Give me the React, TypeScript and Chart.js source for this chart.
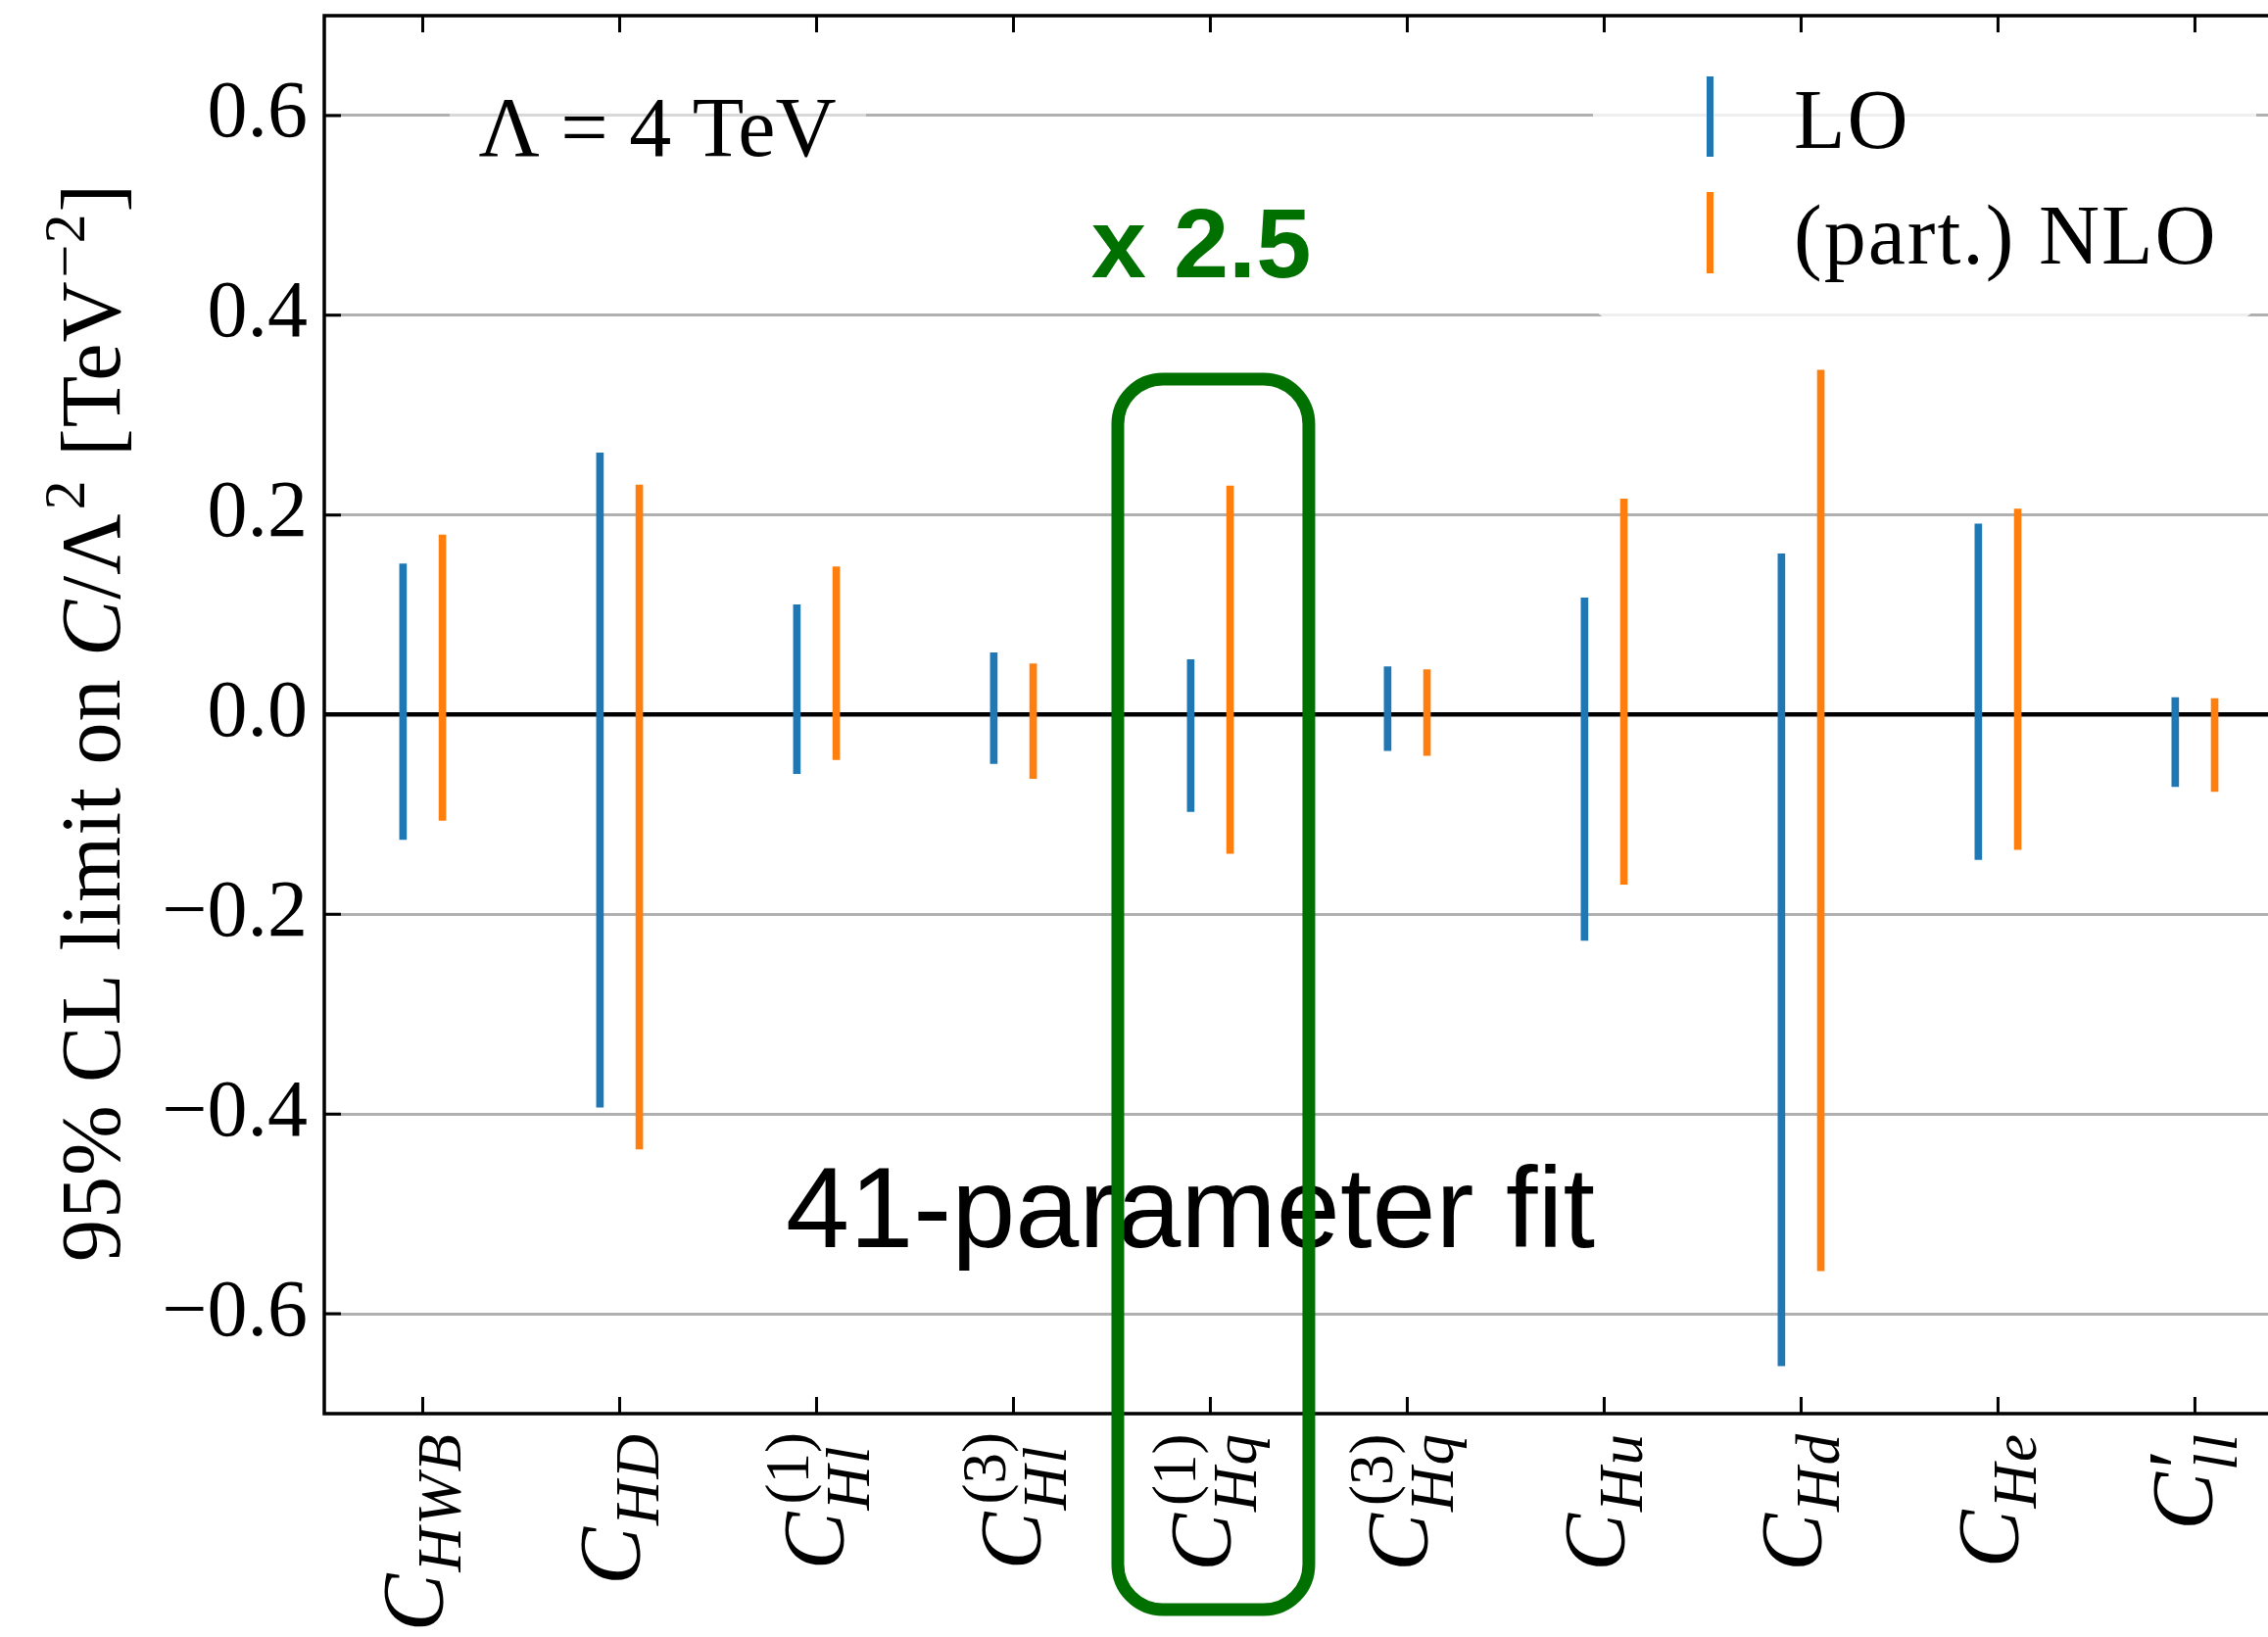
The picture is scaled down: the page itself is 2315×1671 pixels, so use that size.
import React, { useEffect, useRef } from 'react';
import { Chart, registerables } from 'chart.js';

Chart.register(...registerables);

// ---------------- data ----------------
const categories = ['C_HWB', 'C_HD', 'C_Hl^(1)', 'C_Hl^(3)', 'C_Hq^(1)', 'C_Hq^(3)', 'C_Hu', 'C_Hd', 'C_He', "C'_ll"];
const labelSub = ['HWB', 'HD', 'Hl', 'Hl', 'Hq', 'Hq', 'Hu', 'Hd', 'He', 'll'];
const labelSup = ['', '', '(1)', '(3)', '(1)', '(3)', '', '', '', ''];
const labelPrime = [false, false, false, false, false, false, false, false, false, true];

const loLow = [-0.125, -0.393, -0.059, -0.049, -0.097, -0.036, -0.226, -0.652, -0.145, -0.072];
const loHigh = [0.151, 0.262, 0.110, 0.062, 0.055, 0.048, 0.117, 0.161, 0.191, 0.017];
const nloLow = [-0.106, -0.435, -0.045, -0.064, -0.139, -0.041, -0.170, -0.557, -0.135, -0.077];
const nloHigh = [0.180, 0.230, 0.148, 0.051, 0.229, 0.045, 0.216, 0.345, 0.206, 0.016];

const seriesNames = ['LO', '(part.) NLO'];
const seriesColors = ['#1f77b4', '#ff7f0e'];
const yTicks = [-0.6, -0.4, -0.2, 0, 0.2, 0.4, 0.6];
const annotationScale = 'Λ = 4 TeV';
const annotationFactor = 'x 2.5';
const annotationFit = '41-parameter fit';
const highlightIndex = 4;

const SERIF = '"Liberation Serif", "Times New Roman", serif';
const SANS = '"Liberation Sans", Arial, sans-serif';
const GREEN = '#007000';

function fmtTick(v: number): string {
  if (Math.abs(v) < 1e-9) return '0.0';
  return (v < 0 ? '\u2212' : '') + Math.abs(v).toFixed(1);
}

function drawCoeffLabel(ctx: CanvasRenderingContext2D, cx: number, top: number, i: number) {
  const M = 88;
  const S = 63;
  const fMain = `italic ${M}px ${SERIF}`;
  const fSubI = `italic ${S}px ${SERIF}`;
  const fSupU = `${S}px ${SERIF}`;
  const sub = labelSub[i];
  const sup = labelSup[i];
  const prime = labelPrime[i];
  const hasSup = sup !== '' || prime;

  ctx.font = fMain;
  const mC = ctx.measureText('C');
  const cW = mC.width;
  const cAsc = mC.actualBoundingBoxAscent;
  const cDesc = mC.actualBoundingBoxDescent;

  const x0 = cW + 2;
  const subY = hasSup ? 0.3 * M : 0.22 * M;
  const supY = -0.4 * M;

  ctx.font = fSubI;
  const mSub = ctx.measureText(sub);
  const subW = mSub.width + 2 * sub.length;
  const subDesc = mSub.actualBoundingBoxDescent;
  const subAsc = mSub.actualBoundingBoxAscent;

  let supW = 0;
  let supTop = 0;
  if (sup !== '') {
    ctx.font = fSupU;
    const mSup = ctx.measureText(sup);
    supW = mSup.width + 6;
    supTop = supY - mSup.actualBoundingBoxAscent;
  } else if (prime) {
    ctx.font = `${M}px ${SERIF}`;
    const mP = ctx.measureText('\u2032');
    supW = mP.width + 6;
    supTop = -mP.actualBoundingBoxAscent;
  }
  const total = x0 + Math.max(subW, supW);
  const tTop = Math.min(-cAsc, supTop, subY - subAsc);
  const tBot = Math.max(cDesc, subY + subDesc);
  const yShift = -(tTop + tBot) / 2;

  ctx.save();
  ctx.translate(cx, top);
  ctx.rotate(-Math.PI / 2);
  ctx.translate(-total, yShift);
  ctx.fillStyle = '#000';
  ctx.textAlign = 'left';
  ctx.textBaseline = 'alphabetic';
  ctx.font = fMain;
  ctx.fillText('C', 0, 0);
  if (sup !== '') {
    ctx.font = fSupU;
    ctx.fillText(sup, x0 + 6, supY);
  } else if (prime) {
    ctx.font = `${M}px ${SERIF}`;
    ctx.fillText('\u2032', x0 + 2, -4);
  }
  ctx.font = fSubI;
  (ctx as any).letterSpacing = '2px';
  ctx.fillText(sub, x0, subY);
  (ctx as any).letterSpacing = '0px';
  ctx.restore();
}

function drawYTitle(ctx: CanvasRenderingContext2D, baseX: number, centerY: number) {
  const M = 86;
  const S = 60;
  const parts: { t: string; f: string; dy: number }[] = [
    { t: '95% CL limit on ', f: `${M}px ${SERIF}`, dy: 0 },
    { t: 'C', f: `italic ${M}px ${SERIF}`, dy: 0 },
    { t: '/Λ', f: `${M}px ${SERIF}`, dy: 0 },
    { t: '2', f: `${S}px ${SERIF}`, dy: -0.42 * M },
    { t: ' [TeV', f: `${M}px ${SERIF}`, dy: 0 },
    { t: '\u22122', f: `${S}px ${SERIF}`, dy: -0.42 * M },
    { t: ']', f: `${M}px ${SERIF}`, dy: 0 },
  ];
  ctx.save();
  (ctx as any).letterSpacing = '1px';
  let total = 0;
  const widths = parts.map((p) => {
    ctx.font = p.f;
    const w = ctx.measureText(p.t).width + (p.dy !== 0 ? 4 : 0);
    total += w;
    return w;
  });
  ctx.translate(baseX, centerY);
  ctx.rotate(-Math.PI / 2);
  ctx.fillStyle = '#000';
  ctx.textAlign = 'left';
  ctx.textBaseline = 'alphabetic';
  let x = -total / 2;
  parts.forEach((p, k) => {
    ctx.font = p.f;
    ctx.fillText(p.t, x + (p.dy !== 0 ? 3 : 0), p.dy);
    x += widths[k];
  });
  (ctx as any).letterSpacing = '0px';
  ctx.restore();
}

const overlayPlugin = {
  id: 'overlay',
  beforeDraw(chart: any) {
    const { ctx, width, height } = chart;
    ctx.save();
    ctx.fillStyle = '#ffffff';
    ctx.fillRect(0, 0, width, height);
    ctx.restore();
  },
  afterDatasetsDraw(chart: any) {
    const { ctx, chartArea: a, scales } = chart;
    const xs = scales.x;
    const ys = scales.y;
    ctx.save();

    // Λ annotation box (semi-transparent)
    ctx.fillStyle = 'rgba(255,255,255,0.5)';
    ctx.fillRect(459, 70, 425, 115);
    ctx.fillStyle = '#000';
    ctx.font = `86px ${SERIF}`;
    ctx.textAlign = 'center';
    ctx.textBaseline = 'alphabetic';
    ctx.fillText(annotationScale, 671, 159);

    // legend
    ctx.beginPath();
    ctx.roundRect(1626, 30, 677, 296, 20);
    ctx.fillStyle = 'rgba(255,255,255,0.8)';
    ctx.fill();
    const legY = [[78, 160, 151], [196, 279, 269]];
    seriesNames.forEach((name, k) => {
      ctx.fillStyle = seriesColors[k];
      ctx.fillRect(1742, legY[k][0], 7, legY[k][1] - legY[k][0]);
      ctx.fillStyle = '#000';
      ctx.font = `86px ${SERIF}`;
      ctx.textAlign = 'left';
      (ctx as any).letterSpacing = '2px';
      ctx.fillText(name, 1831, legY[k][2]);
      (ctx as any).letterSpacing = '0px';
    });

    // x 2.5
    ctx.fillStyle = GREEN;
    ctx.font = `bold 101px ${SANS}`;
    ctx.textAlign = 'center';
    ctx.fillText(annotationFactor, 1226, 283);

    // 41-parameter fit
    ctx.fillStyle = '#000';
    ctx.font = `117px ${SANS}`;
    ctx.fillText(annotationFit, 1215, 1273);

    // spines
    ctx.strokeStyle = '#000';
    ctx.lineWidth = 3.5;
    ctx.lineCap = 'square';
    ctx.beginPath();
    ctx.moveTo(a.right + 4, a.top);
    ctx.lineTo(a.left, a.top);
    ctx.lineTo(a.left, a.bottom);
    ctx.lineTo(a.right + 4, a.bottom);
    ctx.stroke();

    // inward ticks
    ctx.lineWidth = 3;
    ctx.lineCap = 'butt';
    ctx.beginPath();
    yTicks.forEach((v) => {
      const py = ys.getPixelForValue(v);
      ctx.moveTo(a.left, py);
      ctx.lineTo(a.left + 17, py);
    });
    categories.forEach((_, i) => {
      const px = xs.getPixelForValue(i);
      ctx.moveTo(px, a.bottom);
      ctx.lineTo(px, a.bottom - 17);
      ctx.moveTo(px, a.top);
      ctx.lineTo(px, a.top + 17);
    });
    ctx.stroke();
    ctx.restore();
  },
  afterDraw(chart: any) {
    const { ctx, chartArea: a, scales } = chart;
    const xs = scales.x;
    const ys = scales.y;
    categories.forEach((_, i) => {
      drawCoeffLabel(ctx, xs.getPixelForValue(i), a.bottom + 19, i);
    });
    drawYTitle(ctx, 122, (a.top + a.bottom) / 2 + 8);

    // highlight box around one coefficient
    const cx = xs.getPixelForValue(highlightIndex) + 3;
    const halfW = 0.485 * (xs.getPixelForValue(1) - xs.getPixelForValue(0));
    const topY = ys.getPixelForValue(0.336);
    const botY = a.bottom + 200;
    ctx.save();
    ctx.strokeStyle = GREEN;
    ctx.lineWidth = 13;
    ctx.beginPath();
    ctx.roundRect(cx - halfW, topY, 2 * halfW, botY - topY, 46);
    ctx.stroke();
    ctx.restore();
  },
};

export default function App() {
  const canvasRef = useRef<HTMLCanvasElement | null>(null);

  useEffect(() => {
    const canvas = canvasRef.current;
    if (!canvas) return;
    const pairOffset = [-0.1, 0.1];
    const chart = new Chart(canvas, {
      type: 'bar',
      data: {
        datasets: [
          {
            label: seriesNames[0],
            data: categories.map((_, i) => ({ x: i + pairOffset[0], y: [loLow[i], loHigh[i]] })) as any,
            backgroundColor: seriesColors[0],
            borderWidth: 0,
            borderSkipped: false,
            barThickness: 7,
            grouped: false,
          } as any,
          {
            label: seriesNames[1],
            data: categories.map((_, i) => ({ x: i + pairOffset[1], y: [nloLow[i], nloHigh[i]] })) as any,
            backgroundColor: seriesColors[1],
            borderWidth: 0,
            borderSkipped: false,
            barThickness: 7,
            grouped: false,
          } as any,
        ],
      },
      options: {
        responsive: false,
        maintainAspectRatio: false,
        animation: false,
        devicePixelRatio: 1,
        layout: { padding: { top: 16, right: 0, left: 0, bottom: 0 } },
        plugins: {
          legend: { display: false },
          tooltip: { enabled: false },
          title: { display: false },
        },
        scales: {
          x: {
            type: 'linear',
            min: -0.5,
            max: 9.371,
            offset: false,
            grid: { display: false, offset: false },
            border: { display: false },
            ticks: { display: false },
            afterFit: (s: any) => {
              s.height = 228;
              s.paddingLeft = 0;
              s.paddingRight = 0;
              s.paddingTop = 0;
              s.paddingBottom = 0;
            },
          },
          y: {
            type: 'linear',
            min: -0.7,
            max: 0.7,
            afterBuildTicks: (s: any) => {
              s.ticks = yTicks.map((v) => ({ value: v }));
            },
            ticks: {
              color: '#000',
              padding: 17,
              font: { family: SERIF, size: 82 },
              callback: (v: any) => fmtTick(Number(v)),
            },
            grid: {
              drawTicks: false,
              color: (c: any) => (c.tick && Math.abs(c.tick.value) < 1e-9 ? '#000000' : '#b0b0b0'),
              lineWidth: (c: any) => (c.tick && Math.abs(c.tick.value) < 1e-9 ? 4.5 : 3),
            },
            border: { display: false },
            afterFit: (s: any) => {
              s.width = 331;
              s.paddingTop = 0;
              s.paddingBottom = 0;
              s.paddingLeft = 0;
              s.paddingRight = 0;
            },
          },
        },
      } as any,
      plugins: [overlayPlugin],
    });
    return () => chart.destroy();
  }, []);

  return (
    <div style={{ position: 'fixed', left: 0, top: 0, width: 2315, height: 1671, background: '#fff' }}>
      <canvas ref={canvasRef} width={2315} height={1671} style={{ display: 'block', width: 2315, height: 1671 }} />
    </div>
  );
}
